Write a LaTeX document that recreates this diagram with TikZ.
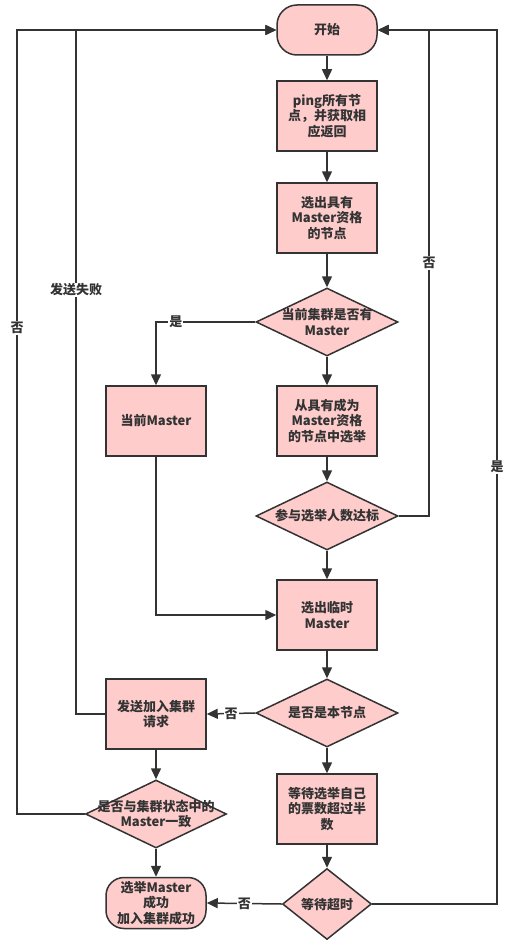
\documentclass[tikz,border=0pt]{standalone}
\usepackage{fontspec}
\setmainfont{Noto Sans CJK SC}
\usetikzlibrary{shapes.geometric,arrows.meta}
\definecolor{boxfill}{HTML}{FFCCCC}
\definecolor{linecol}{HTML}{333333}
\begin{document}
\begin{tikzpicture}[x=1pt,y=-1pt,
    every node/.style={font=\bfseries\fontsize{13}{15.5}\selectfont, text=linecol},
    proc/.style={draw=linecol, fill=boxfill, line width=1.5pt, minimum width=100pt, minimum height=70pt, align=center, inner sep=0pt},
    term/.style={proc, rounded corners=20pt, minimum height=50pt},
    decision/.style={diamond, draw=linecol, fill=boxfill, line width=1.5pt, minimum width=142pt, minimum height=68pt, inner sep=0pt},
    arr/.style={draw=linecol, line width=1.5pt, -{Triangle[length=11pt,width=10pt]}},
    lbl/.style={fill=white, inner sep=1pt}]
    \useasboundingbox (0,0) rectangle (513,942);
    % main column
    \node[term] (start) at (327,30) {开始};
    \node[proc] (ping) at (327,116) {ping所有节\\点，并获取相\\应返回};
    \node[proc] (qual) at (327,218) {选出具有\\Master资格\\的节点};
    \node[decision, label={[align=center]center:当前集群是否有\\Master}] (hasm) at (327,322) {};
    \node[proc] (elect) at (327,421) {从具有成为\\Master资格\\的节点中选举};
    \node[decision, label={center:参与选举人数达标}] (enough) at (327,516) {};
    \node[proc] (temp) at (327,615) {选出临时\\Master};
    \node[decision, label={center:是否是本节点}] (istemp) at (327,713) {};
    \node[proc] (wait) at (327,809) {等待选举自己\\的票数超过半\\数};
    \node[decision, minimum width=89pt, minimum height=71pt, label={center:等待超时}] (timeout) at (327,904) {};
    % left column
    \node[proc] (curm) at (156,421) {当前Master};
    \node[proc] (send) at (156,714) {发送加入集群\\请求};
    \node[decision, minimum width=141pt, label={[align=center]center:是否与集群状态中的\\Master一致}] (same) at (156,814) {};
    \node[term, minimum height=51pt, rounded corners=18pt] (done) at (156,903) {选举Master\\成功\\加入集群成功};
    % loop-back corners
    \coordinate (lf1) at (17,30);
    \coordinate (lf2) at (76,30);
    \coordinate (rt1) at (429,30);
    \coordinate (rt2) at (497,30);

    \foreach \a/\b in {start/ping,ping/qual,qual/hasm,hasm/elect,elect/enough,enough/temp,temp/istemp,istemp/wait,wait/timeout,send/same,same/done} {
        \draw[arr] (\a) -- (\b);
    }
    \draw[arr] (hasm.west) -| node[lbl, pos=0.4] {是} (curm);
    \draw[arr] (curm.south) |- (temp.west);
    \draw[arr] (istemp.west) -- node[lbl] {否} (send.east);
    \draw[arr] (timeout.west) -- node[lbl] {否} (done.east);
    \draw[arr] (enough.east) -| node[lbl, pos=0.76] {否} (rt1) -- (start.east);
    \draw[arr] (timeout.east) -| node[lbl, pos=0.75] {是} (rt2) -- (start.east);
    \draw[arr] (send.west) -| node[lbl, pos=0.81] {发送失败} (lf2) -- (start.west);
    \draw[arr] (same.west) -| node[lbl, pos=0.81] {否} (lf1) -- (start.west);
\end{tikzpicture}
\end{document}
